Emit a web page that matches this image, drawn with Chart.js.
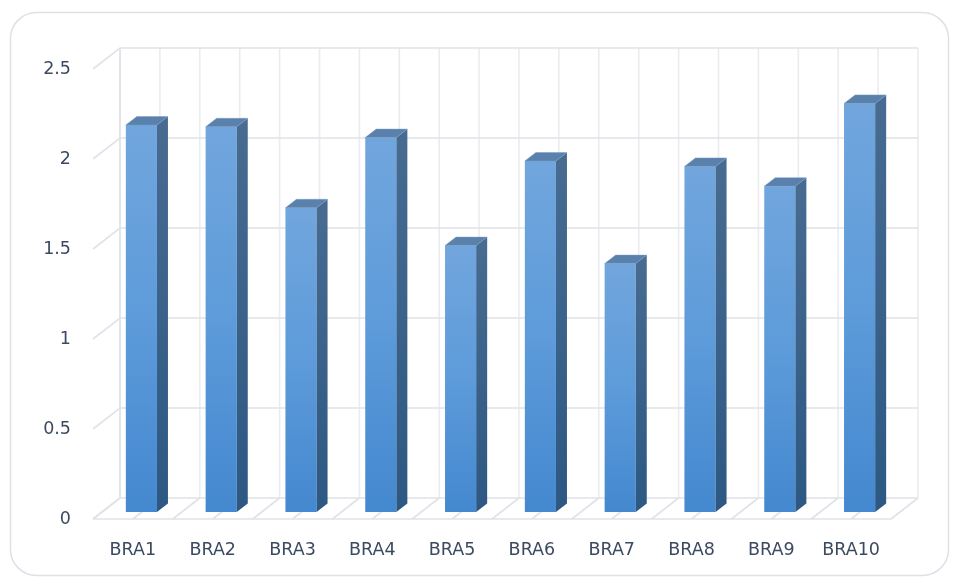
<!DOCTYPE html>
<html>
<head>
<meta charset="utf-8">
<script src="https://cdn.jsdelivr.net/npm/chart.js@4.4.0/dist/chart.umd.min.js"></script>
<style>
  html, body { margin: 0; padding: 0; background: #fff; }
  #wrap { width: 953px; height: 578px; }
</style>
</head>
<body>
<div id="wrap"><canvas id="chart" width="953" height="578"></canvas></div>
<script>
const categories = ["BRA1", "BRA2", "BRA3", "BRA4", "BRA5", "BRA6", "BRA7", "BRA8", "BRA9", "BRA10"];
const values = [2.15, 2.14, 1.69, 2.08, 1.48, 1.95, 1.38, 1.92, 1.81, 2.27];
const yTicks = [0, 0.5, 1, 1.5, 2, 2.5];

// depth of the 3d box (back wall offset) and of the bars
const DEPTH = { x: 27, y: -21 };
const BAR_OFF = { x: 8.5, y: -7 };
const BAR_DEPTH = { x: 11, y: -8.5 };

const textColor = "#3b4a60";
const gridColor = "#dfe2e8";
const gridColorV = "#eaecf0";

const threeD = {
  id: "threeD",
  beforeDraw(chart) {
    const ctx = chart.ctx;
    // outer rounded frame
    ctx.save();
    ctx.strokeStyle = "#dde1e7";
    ctx.lineWidth = 1.5;
    ctx.beginPath();
    ctx.roundRect(10.5, 12.5, 938, 563, 26);
    ctx.stroke();
    ctx.restore();
  },
  beforeDatasetsDraw(chart) {
    const ctx = chart.ctx;
    const { left, right, top, bottom } = chart.chartArea;
    const ys = chart.scales.y;
    const xs = chart.scales.x;
    ctx.save();
    ctx.lineWidth = 1.6;
    // vertical lines on back wall + floor diagonals, every half category
    const n = categories.length;
    const step = (xs.getPixelForValue(1) - xs.getPixelForValue(0)) / 2;
    const x0 = xs.getPixelForValue(0) - step;
    ctx.strokeStyle = gridColorV;
    for (let k = 0; k <= n * 2; k++) {
      const x = x0 + k * step;
      ctx.beginPath();
      ctx.moveTo(x + DEPTH.x, top + DEPTH.y);
      ctx.lineTo(x + DEPTH.x, bottom + DEPTH.y);
      ctx.stroke();
    }
    ctx.strokeStyle = gridColor;
    for (let k = 0; k <= n * 2; k++) {
      const x = x0 + k * step;
      ctx.beginPath();
      ctx.moveTo(x, bottom);
      ctx.lineTo(x + DEPTH.x, bottom + DEPTH.y);
      ctx.stroke();
    }
    // horizontal gridlines: left wall diagonal + back wall line
    yTicks.forEach(v => {
      const y = ys.getPixelForValue(v);
      ctx.beginPath();
      ctx.moveTo(left, y);
      ctx.lineTo(left + DEPTH.x, y + DEPTH.y);
      ctx.lineTo(right + DEPTH.x, y + DEPTH.y);
      ctx.stroke();
    });
    // front floor edge
    ctx.beginPath();
    ctx.moveTo(left, bottom);
    ctx.lineTo(right, bottom);
    ctx.stroke();
    // left wall back edge
    ctx.beginPath();
    ctx.moveTo(left + DEPTH.x, top + DEPTH.y);
    ctx.lineTo(left + DEPTH.x, bottom + DEPTH.y);
    ctx.stroke();
    ctx.restore();

    ctx.save();
    ctx.translate(BAR_OFF.x, BAR_OFF.y);
  },
  afterDatasetsDraw(chart) {
    const ctx = chart.ctx;
    const meta = chart.getDatasetMeta(0);
    meta.data.forEach(bar => {
      const { x, y, base, width } = bar.getProps(["x", "y", "base", "width"], true);
      const l = x - width / 2, r = x + width / 2;
      // side face
      const sg = ctx.createLinearGradient(0, y, 0, base);
      sg.addColorStop(0, "#476b91");
      sg.addColorStop(1, "#2c5883");
      ctx.fillStyle = sg;
      ctx.beginPath();
      ctx.moveTo(r, y);
      ctx.lineTo(r + BAR_DEPTH.x, y + BAR_DEPTH.y);
      ctx.lineTo(r + BAR_DEPTH.x, base + BAR_DEPTH.y);
      ctx.lineTo(r, base);
      ctx.closePath();
      ctx.fill();
      // top face
      ctx.fillStyle = "#5a80ac";
      ctx.beginPath();
      ctx.moveTo(l, y);
      ctx.lineTo(l + BAR_DEPTH.x, y + BAR_DEPTH.y);
      ctx.lineTo(r + BAR_DEPTH.x, y + BAR_DEPTH.y);
      ctx.lineTo(r, y);
      ctx.closePath();
      ctx.fill();
      ctx.strokeStyle = "rgba(120,155,200,0.6)";
      ctx.lineWidth = 0.8;
      ctx.stroke();
    });
    ctx.restore();
  }
};

new Chart(document.getElementById("chart"), {
  type: "bar",
  data: {
    labels: categories,
    datasets: [{
      data: values,
      clip: false,
      backgroundColor: c => {
        const chart = c.chart;
        if (!chart.chartArea || c.dataIndex === undefined) return "#5b9bd5";
        const ys = chart.scales.y;
        const top = ys.getPixelForValue(values[c.dataIndex]);
        const bot = ys.getPixelForValue(0);
        const g = chart.ctx.createLinearGradient(0, top, 0, bot);
        g.addColorStop(0, "#71a6dd");
        g.addColorStop(0.5, "#5d9bda");
        g.addColorStop(1, "#4488cf");
        return g;
      },
      borderWidth: 0,
      barPercentage: 0.39,
      categoryPercentage: 1
    }]
  },
  options: {
    responsive: false,
    animation: false,
    layout: { padding: { left: 0, top: 69, right: 62, bottom: 0 } },
    plugins: {
      legend: { display: false },
      tooltip: { enabled: false }
    },
    scales: {
      x: {
        grid: { display: false, drawTicks: false },
        border: { display: false },
        ticks: {
          color: textColor,
          padding: 21,
          font: { family: "DejaVu Sans", size: 17.5 }
        },
        afterFit: s => { s.height = 59; }
      },
      y: {
        min: 0,
        max: 2.5,
        grid: { display: false, drawTicks: false },
        border: { display: false },
        ticks: {
          stepSize: 0.5,
          color: textColor,
          padding: 22,
          font: { family: "DejaVu Sans", size: 17.5 },
          callback: v => String(v)
        },
        afterFit: s => { s.width = 93; }
      }
    }
  },
  plugins: [threeD]
});
</script>
</body>
</html>
